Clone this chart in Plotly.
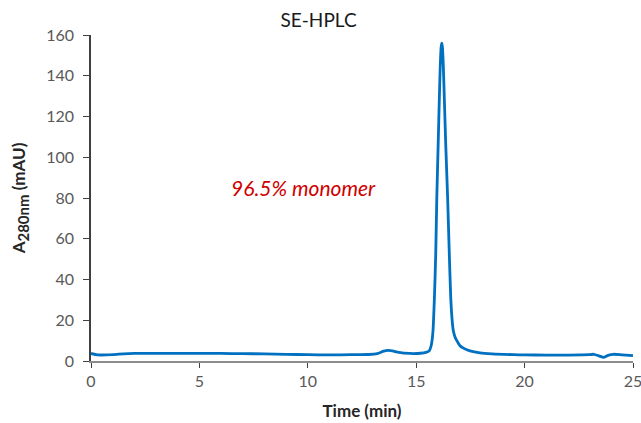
import plotly.graph_objects as go

# Chromatogram trace (time in min, absorbance in mAU)
time_min = [0.0, 0.3, 1.0, 1.5, 2.0, 3.0, 4.0, 5.0, 6.0, 7.0, 8.0, 9.0, 10.0, 11.0, 12.0,
            12.8, 13.2, 13.5, 13.7, 13.9, 14.2, 14.7, 15.2, 15.45, 15.6, 15.7, 15.77,
            15.84, 15.9, 15.95, 16.01, 16.07, 16.11, 16.15, 16.18, 16.21, 16.25, 16.3,
            16.37, 16.45, 16.52, 16.59, 16.65, 16.71, 16.8, 16.9, 17.02, 17.2, 17.48,
            17.94, 18.5, 19.5, 20.0, 21.0, 22.0, 23.0, 23.2, 23.45, 23.64, 23.85, 24.1,
            24.5, 25.0]
absorbance = [3.7, 3.0, 3.1, 3.5, 3.7, 3.7, 3.7, 3.7, 3.7, 3.6, 3.5, 3.3, 3.1, 3.0, 3.1,
              3.2, 3.6, 4.8, 5.2, 5.0, 4.2, 3.7, 3.8, 4.2, 5.0, 8.0, 14.0,
              31.0, 52.0, 80.0, 105.0, 130.0, 145.0, 154.0, 156.0, 154.0, 145.0, 128.0,
              104.0, 80.0, 55.0, 32.0, 21.0, 15.0, 11.5, 9.5, 7.5, 6.2, 5.0,
              4.0, 3.5, 3.1, 3.0, 2.9, 2.9, 3.1, 3.3, 2.4, 1.8, 2.8, 3.3,
              3.0, 2.6]

x_ticks = [0, 5, 10, 15, 20, 25]
y_ticks = [0, 20, 40, 60, 80, 100, 120, 140, 160]

title_text = "SE-HPLC"
x_title = "<b>Time (min)</b>"
y_title = "<b>A<sub><span style='font-size:15px'>280nm</span></sub> (mAU)</b>"
note_text = "<i>96.5% monomer</i>"
note_pos = (9.8, 85)

FONT = "Lato, 'Open Sans', sans-serif"

fig = go.Figure()
fig.add_trace(go.Scatter(
    x=time_min, y=absorbance, mode="lines",
    line=dict(color="#0070C0", width=2.8, shape="spline", smoothing=0.6),
    showlegend=False, hoverinfo="skip",
))

fig.add_annotation(
    x=note_pos[0], y=note_pos[1], xref="x", yref="y", text=note_text,
    showarrow=False, font=dict(family=FONT, size=21, color="#D00000"),
)

fig.update_layout(
    width=641, height=423,
    margin=dict(l=91, r=8, t=35, b=62),
    paper_bgcolor="white", plot_bgcolor="white",
    title=dict(text=title_text, x=0.497, xref="container", xanchor="center",
               y=0.952, yref="container", yanchor="middle",
               font=dict(family=FONT, size=19, color="#1a1a1a")),
    font=dict(family=FONT, color="#595959"),
)

fig.update_xaxes(
    range=[0, 25], tickvals=x_ticks, ticks="outside", ticklen=5, tickwidth=1.2,
    tickcolor="#404040", showline=True, linecolor="#8c8c8c", linewidth=1.8,
    showgrid=False, zeroline=False, automargin=False, ticklabeloverflow="allow",
    tickfont=dict(family=FONT, size=16, color="#595959"),
    title=dict(text=x_title, standoff=16, font=dict(family=FONT, size=17, color="#262626")),
)
fig.update_yaxes(
    range=[0, 160], tickvals=y_ticks, ticks="outside", ticklen=6, tickwidth=1.2,
    tickcolor="#404040", showline=True, linecolor="#404040", linewidth=1.5,
    showgrid=False, zeroline=False, ticklabelstandoff=6, automargin=False,
    tickfont=dict(family=FONT, size=16, color="#595959"),
    title=dict(text=y_title, standoff=16, font=dict(family=FONT, size=17, color="#262626")),
)

fig.write_html("out.html", config={"displayModeBar": False},
               post_script="document.body.style.margin='0';")
